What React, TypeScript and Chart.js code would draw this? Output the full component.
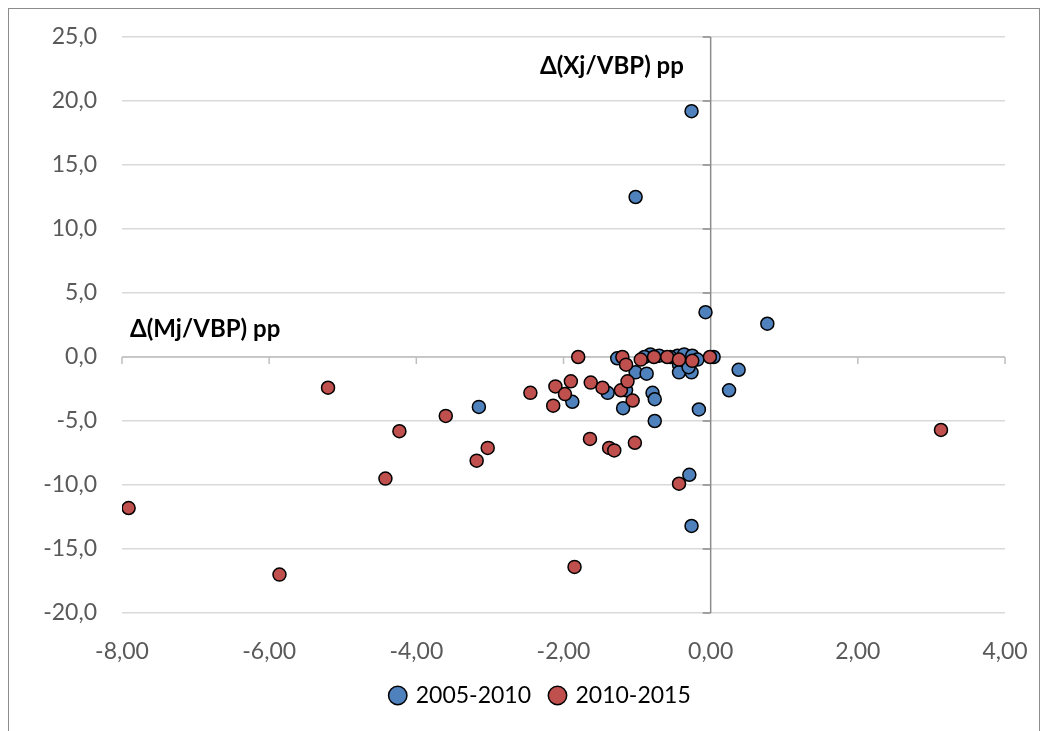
import React, { useEffect, useRef } from "react";
import { Chart, registerables } from "chart.js";

Chart.register(...registerables);

const seriesNames = ["2005-2010", "2010-2015"];

const blueX = [-0.26, -1.02, -0.07, 0.77, 0.38, 0.25, -0.16, -0.76, -0.29, -0.26, -3.15, -1.88, -1.4, -1.19, -1.15, -1.02, -0.87, -0.79, -0.76, -1.27, -0.82, -0.45, -0.36, -0.25, -0.18, 0.04, -0.43, -0.43, -0.26, -0.3, -0.7, -0.55, -0.9];
const blueY = [19.2, 12.5, 3.5, 2.6, -1.0, -2.6, -4.1, -5.0, -9.2, -13.2, -3.9, -3.5, -2.8, -4.0, -2.6, -1.2, -1.3, -2.8, -3.3, -0.1, 0.2, 0.1, 0.2, 0.1, -0.2, 0.0, -0.6, -1.2, -1.2, -0.8, 0.1, 0.0, 0.0];

const redX = [-7.91, -5.86, -5.2, -4.23, -4.42, -3.6, -3.18, -3.03, -2.45, -2.14, -2.11, -1.98, -1.9, -1.85, -1.8, -1.63, -1.64, -1.47, -1.38, -1.31, -1.22, -1.13, -1.06, -1.03, -1.2, -1.15, -0.95, -0.77, -0.59, -0.43, -0.25, -0.01, -0.43, 3.13];
const redY = [-11.8, -17.0, -2.4, -5.8, -9.5, -4.6, -8.1, -7.1, -2.8, -3.8, -2.3, -2.9, -1.9, -16.4, 0.0, -2.0, -6.4, -2.4, -7.1, -7.3, -2.6, -1.9, -3.4, -6.7, 0.0, -0.6, -0.2, 0.0, 0.0, -0.2, -0.3, 0.0, -9.9, -5.7];

const xTicks = [-8, -6, -4, -2, 0, 2, 4];
const yTicks = [-20, -15, -10, -5, 0, 5, 10, 15, 20, 25];

const yAxisNote = "Δ(Xj/VBP) pp";
const xAxisNote = "Δ(Mj/VBP) pp";

const FONT = "Lato, 'Open Sans', sans-serif";

const toPts = (xs: number[], ys: number[]) => xs.map((x, i) => ({ x, y: ys[i] }));

const crossAxes = {
  id: "crossAxes",
  beforeDatasetsDraw(chart: any) {
    const { ctx, chartArea, scales } = chart;
    const xs = scales.x;
    const ys = scales.y;
    const x0 = xs.getPixelForValue(0);
    const y0 = ys.getPixelForValue(0);
    ctx.save();
    ctx.strokeStyle = "#bfbfbf";
    ctx.lineWidth = 1.5;
    ctx.beginPath();
    ctx.moveTo(chartArea.left, y0);
    ctx.lineTo(chartArea.right, y0);
    for (const v of xTicks) {
      const px = xs.getPixelForValue(v);
      ctx.moveTo(px, y0);
      ctx.lineTo(px, y0 + 7);
    }
    ctx.stroke();
    ctx.strokeStyle = "#8c8c8c";
    ctx.beginPath();
    ctx.moveTo(x0, chartArea.top);
    ctx.lineTo(x0, chartArea.bottom);
    for (const v of yTicks) {
      const py = ys.getPixelForValue(v);
      ctx.moveTo(x0 - 8, py);
      ctx.lineTo(x0, py);
    }
    ctx.stroke();
    ctx.restore();
  },
  afterDraw(chart: any) {
    const { ctx, chartArea, scales, width, height } = chart;
    const xs = scales.x;
    const ys = scales.y;
    ctx.save();
    ctx.fillStyle = "#000";
    ctx.font = `bold 24px ${FONT}`;
    ctx.textBaseline = "middle";
    ctx.textAlign = "left";
    ctx.fillText(yAxisNote, xs.getPixelForValue(-2.32), ys.getPixelForValue(22.7));
    ctx.fillText(xAxisNote, chartArea.left + 8, ys.getPixelForValue(2.2));
    ctx.strokeStyle = "#8c8c8c";
    ctx.lineWidth = 1;
    ctx.strokeRect(0.5, 0.5, width - 1, height + 5);
    ctx.restore();
  },
};

export default function App() {
  const ref = useRef<HTMLCanvasElement | null>(null);

  useEffect(() => {
    if (!ref.current) return;
    const chart = new Chart(ref.current, {
      type: "scatter",
      data: {
        datasets: [
          {
            label: seriesNames[0],
            data: toPts(blueX, blueY),
            backgroundColor: "#4f81bd",
            borderColor: "#000000",
            borderWidth: 1.5,
            pointRadius: 6.5,
            pointHoverRadius: 6.5,
            order: 2,
          },
          {
            label: seriesNames[1],
            data: toPts(redX, redY),
            backgroundColor: "#c0504d",
            borderColor: "#000000",
            borderWidth: 1.5,
            pointRadius: 6.5,
            pointHoverRadius: 6.5,
            order: 1,
          },
        ],
      },
      options: {
        animation: false,
        responsive: true,
        maintainAspectRatio: false,
        layout: { padding: { left: 34, right: 0, top: 29, bottom: 14 } },
        plugins: {
          tooltip: { enabled: false },
          legend: {
            position: "bottom",
            labels: {
              usePointStyle: true,
              pointStyle: "circle",
              boxWidth: 13,
              boxHeight: 13,
              padding: 20,
              color: "#000",
              font: { family: FONT, size: 23 },
              sort: (a: any, b: any) => a.datasetIndex - b.datasetIndex,
            },
          },
        },
        scales: {
          x: {
            type: "linear",
            min: -8,
            max: 4,
            afterFit: (s: any) => {
              s.height = 51;
              s.paddingRight = 35;
            },
            afterBuildTicks: (s: any) => {
              s.ticks = xTicks.map((v) => ({ value: v }));
            },
            ticks: {
              color: "#595959",
              font: { family: FONT, size: 23 },
              padding: 25,
              maxRotation: 0,
              callback: (v: any) => Number(v).toFixed(2).replace(".", ","),
            },
            grid: { display: false, drawTicks: false },
            border: { display: false },
          },
          y: {
            type: "linear",
            min: -20,
            max: 25,
            afterFit: (s: any) => {
              s.width = 80;
              s.paddingTop = 0;
              s.paddingBottom = 0;
            },
            afterBuildTicks: (s: any) => {
              s.ticks = yTicks.map((v) => ({ value: v }));
            },
            ticks: {
              color: "#595959",
              font: { family: FONT, size: 23 },
              padding: 25,
              callback: (v: any) => Number(v).toFixed(1).replace(".", ","),
            },
            grid: { color: "#d9d9d9", lineWidth: 1.5, drawTicks: false },
            border: { display: false },
          },
        },
      },
      plugins: [crossAxes],
    });
    return () => chart.destroy();
  }, []);

  return (
    <div style={{ position: "fixed", left: 8, top: 8, width: 1032, height: 723, background: "#fff" }}>
      <canvas ref={ref} />
    </div>
  );
}
